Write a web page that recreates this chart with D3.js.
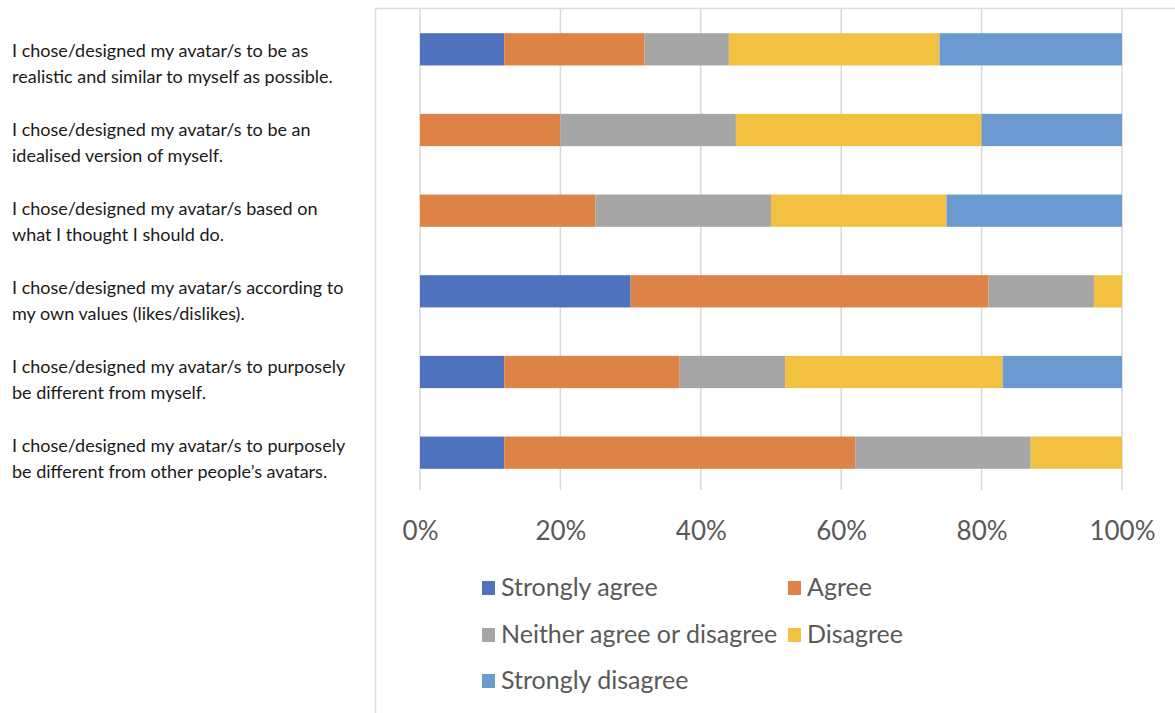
<!DOCTYPE html>
<html>
<head>
<meta charset="utf-8">
<script src="https://cdn.jsdelivr.net/npm/d3@7"></script>
<style>
  body { margin: 0; background: #fff; }
  svg { display: block; font-family: Lato, "Open Sans", sans-serif; }
</style>
</head>
<body>
<svg id="chart" width="1175" height="713"></svg>
<script>
// statements, each label split in two lines like the original
const statements = [
  ["I chose/designed my avatar/s to be as", "realistic and similar to myself as possible."],
  ["I chose/designed my avatar/s to be an", "idealised version of myself."],
  ["I chose/designed my avatar/s based on", "what I thought I should do."],
  ["I chose/designed my avatar/s according to", "my own values (likes/dislikes)."],
  ["I chose/designed my avatar/s to purposely", "be different from myself."],
  ["I chose/designed my avatar/s to purposely", "be different from other people\u2019s avatars."]
];

const seriesNames = ["Strongly agree", "Agree", "Neither agree or disagree", "Disagree", "Strongly disagree"];
const seriesColors = ["#4f72be", "#dd8346", "#a6a6a6", "#f3c142", "#6a9ad0"];

// percentages per statement
const stronglyAgree    = [12, 0, 0, 30, 12, 12];
const agree            = [20, 20, 25, 51, 25, 50];
const neither          = [12, 25, 25, 15, 15, 25];
const disagree         = [30, 35, 25, 4, 31, 13];
const stronglyDisagree = [26, 20, 25, 0, 17, 0];

const tickValues = [0, 20, 40, 60, 80, 100];

const allSeries = [stronglyAgree, agree, neither, disagree, stronglyDisagree];

const rows = statements.map((s, i) => {
  const r = { id: i };
  seriesNames.forEach((n, k) => { r[n] = allSeries[k][i]; });
  return r;
});

const svg = d3.select('#chart');

const x = d3.scaleLinear().domain([0, 100]).range([420, 1122]);
const y = d3.scaleBand()
  .domain(rows.map(d => d.id))
  .range([9, 493])
  .paddingInner(0.6)
  .paddingOuter(0.3);

// chart frame (top + left edge visible)
svg.append('line')
  .attr('x1', 375).attr('x2', 1175).attr('y1', 8.5).attr('y2', 8.5)
  .attr('stroke', '#dcdcdc').attr('stroke-width', 1.5);
svg.append('line')
  .attr('x1', 375.5).attr('x2', 375.5).attr('y1', 8.5).attr('y2', 713)
  .attr('stroke', '#dcdcdc').attr('stroke-width', 1.5);

// vertical gridlines
svg.append('g')
  .selectAll('line')
  .data(tickValues)
  .enter()
  .append('line')
  .attr('x1', d => x(d)).attr('x2', d => x(d))
  .attr('y1', 9).attr('y2', 490)
  .attr('stroke', '#d9d9d9')
  .attr('stroke-width', 1.5);

// stacked bars
const stack = d3.stack().keys(seriesNames);
const layers = stack(rows);

svg.append('g')
  .selectAll('g')
  .data(layers)
  .enter()
  .append('g')
  .attr('fill', (d, i) => seriesColors[i])
  .selectAll('rect')
  .data(d => d)
  .enter()
  .append('rect')
  .attr('x', d => x(d[0]))
  .attr('width', d => x(d[1]) - x(d[0]))
  .attr('y', d => y(d.data.id))
  .attr('height', y.bandwidth());

// x axis tick labels
const xAxis = d3.axisBottom(x)
  .tickValues(tickValues)
  .tickFormat(d => d + '%')
  .tickSize(0)
  .tickPadding(0);

const axisG = svg.append('g')
  .attr('transform', 'translate(0,522)')
  .call(xAxis);
axisG.select('.domain').remove();
axisG.selectAll('text')
  .attr('font-family', 'Lato, sans-serif')
  .attr('font-size', 26)
  .attr('fill', '#595959');

// statement labels on the left (own text box, slightly different spacing)
const labelY = d3.scalePoint()
  .domain(rows.map(d => d.id))
  .range([57, 452]);

const labels = svg.append('g')
  .selectAll('text')
  .data(statements)
  .enter()
  .append('text')
  .attr('x', 12)
  .attr('y', (d, i) => labelY(i))
  .attr('font-size', 18)
  .attr('fill', '#1a1a1a');

labels.selectAll('tspan')
  .data(d => d)
  .enter()
  .append('tspan')
  .attr('x', 12)
  .attr('dy', (d, i) => i === 0 ? 0 : 25.5)
  .text(d => d);

// legend
const legendPos = [
  [482, 596], [788, 596],
  [482, 643], [788, 643],
  [482, 689]
];

const legend = svg.append('g')
  .selectAll('g')
  .data(seriesNames)
  .enter()
  .append('g')
  .attr('transform', (d, i) => `translate(${legendPos[i][0]},${legendPos[i][1]})`);

legend.append('rect')
  .attr('x', 0).attr('y', -15)
  .attr('width', 13).attr('height', 14)
  .attr('fill', (d, i) => seriesColors[i]);

legend.append('text')
  .attr('x', 19)
  .attr('y', 0)
  .attr('font-size', 25)
  .attr('fill', '#595959')
  .text(d => d);
</script>
</body>
</html>
